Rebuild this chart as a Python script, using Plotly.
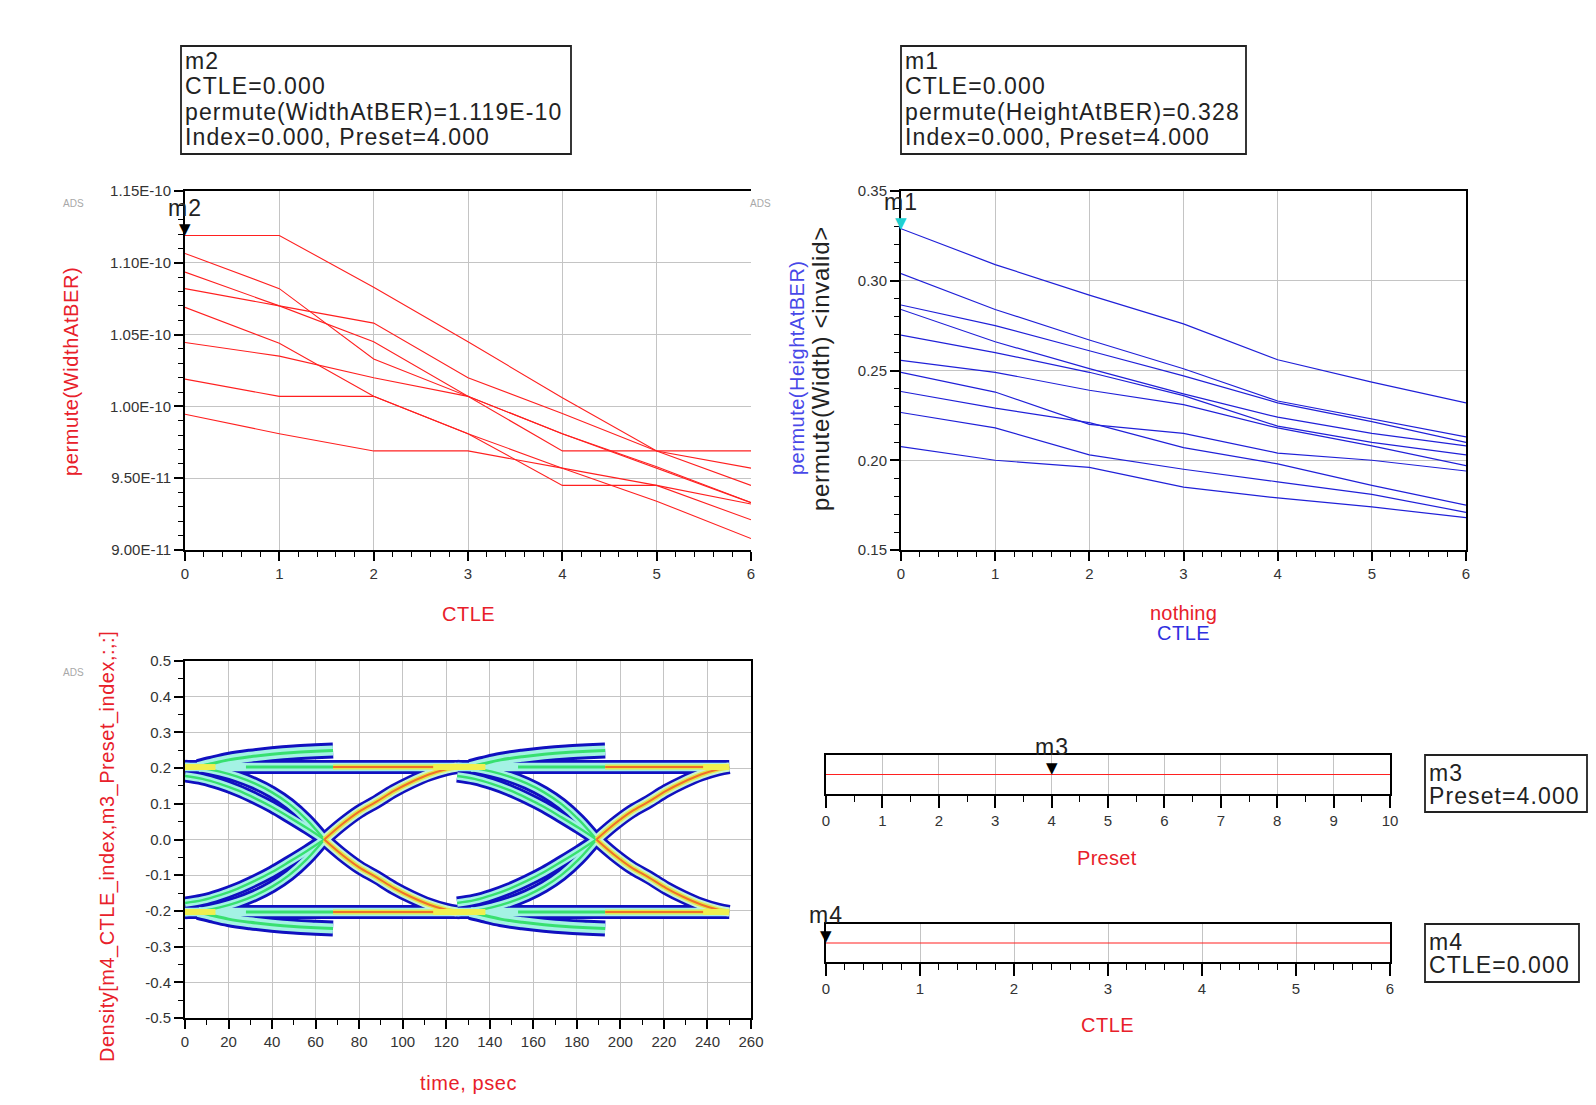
import plotly.graph_objects as go

# ---------------- data ----------------
ctle = [0, 1, 2, 3, 4, 5, 6]

# permute(WidthAtBER) in ps, one list per Index
width_at_ber_ps = [
    [111.9, 111.9, 108.3, 104.5, 100.6, 96.9, 95.7],
    [110.65, 108.2, 103.3, 100.7, 98.1, 95.8, 93.3],
    [109.35, 107.0, 105.8, 102.0, 99.5, 96.9, 94.5],
    [108.2, 107.0, 104.5, 100.7, 96.9, 96.9, 96.9],
    [106.9, 104.4, 100.7, 98.1, 95.7, 93.4, 90.8],
    [104.45, 103.5, 102.0, 100.7, 98.1, 95.7, 93.3],
    [101.9, 100.7, 100.7, 98.1, 94.5, 94.5, 92.1],
    [99.45, 98.1, 96.9, 96.9, 95.7, 94.5, 93.2],
]

# permute(HeightAtBER), one list per Index
height_at_ber = [
    [0.329, 0.309, 0.292, 0.276, 0.256, 0.2435, 0.232],
    [0.304, 0.284, 0.267, 0.251, 0.233, 0.223, 0.213],
    [0.2865, 0.275, 0.261, 0.247, 0.232, 0.2215, 0.210],
    [0.284, 0.266, 0.251, 0.237, 0.224, 0.215, 0.208],
    [0.2697, 0.260, 0.249, 0.236, 0.219, 0.210, 0.203],
    [0.2556, 0.249, 0.239, 0.231, 0.218, 0.208, 0.197],
    [0.249, 0.238, 0.220, 0.215, 0.204, 0.200, 0.194],
    [0.2383, 0.229, 0.221, 0.207, 0.198, 0.186, 0.175],
    [0.2266, 0.218, 0.203, 0.195, 0.188, 0.181, 0.171],
    [0.2076, 0.200, 0.196, 0.185, 0.179, 0.174, 0.168],
]

# markers
m2_ctle, m2_width = 0.0, 1.119e-10
m1_ctle, m1_height = 0.0, 0.328
m3_preset = 4.0
m4_ctle = 0.0

# eye diagram trajectories (time in psec, volts); repeated for each UI
eye_ui_start = [0, 125]
eye_pre_t = [0, 8, 16, 24, 32, 40, 48, 56, 64]
eye_fall_pre_a = [0.205, 0.200, 0.190, 0.176, 0.157, 0.132, 0.099, 0.055, 0.0]
eye_fall_pre_b = [0.178, 0.170, 0.156, 0.138, 0.116, 0.091, 0.062, 0.032, 0.0]
eye_post_t = [64, 72, 80, 88, 96, 104, 112, 120, 125]
eye_fall_post = [0.0, -0.042, -0.078, -0.106, -0.136, -0.161, -0.182, -0.197, -0.203]
eye_branch_t = [6, 12, 20, 30, 40, 50, 60, 68]
eye_branch_v = [0.203, 0.212, 0.223, 0.232, 0.239, 0.244, 0.247, 0.249]
eye_level = 0.203
eye_level_t = [0, 250]
eye_green_t = [[28, 68], [153, 193]]
eye_orange_t = [[68, 116], [193, 241]]
eye_yellow_t = [[0, 14], [114, 138], [238, 250]]

# tick labels
w_tickvals = [9.0e-11, 9.5e-11, 1.0e-10, 1.05e-10, 1.10e-10, 1.15e-10]
w_ticktext = ["9.00E-11", "9.50E-11", "1.00E-10", "1.05E-10", "1.10E-10", "1.15E-10"]
h_tickvals = [0.15, 0.20, 0.25, 0.30, 0.35]
h_ticktext = ["0.15", "0.20", "0.25", "0.30", "0.35"]
eye_y_tickvals = [-0.5, -0.4, -0.3, -0.2, -0.1, 0.0, 0.1, 0.2, 0.3, 0.4, 0.5]
eye_y_ticktext = ["-0.5", "-0.4", "-0.3", "-0.2", "-0.1", "0.0", "0.1", "0.2", "0.3", "0.4", "0.5"]
eye_x_tickvals = list(range(0, 261, 20))
eye_x_ticktext = [str(v) for v in eye_x_tickvals]
preset_range = [0, 10]
ctle_range = [0, 6]

# ---------------- layout helpers ----------------
W, H = 1596, 1105
def fx(x): return x / W
def fy(y): return 1 - y / H

RED = "#e8202a"
FONT = "Liberation Sans, Arial"
TICKFONT = dict(family=FONT, size=15, color="#333")

def sp(text, ls):
    return '<span style="letter-spacing:%spx">%s</span>' % (ls, text)

def axis(domain, rng, dtick, minor_dtick, anchor, **kw):
    d = dict(domain=domain, range=rng, anchor=anchor, dtick=dtick, automargin=False,
             showgrid=True, gridcolor="#c4c4c4", gridwidth=1,
             showline=True, linecolor="black", linewidth=2, mirror=True,
             zeroline=False, ticks="outside", ticklen=9, tickwidth=1.5,
             tickcolor="black", tickfont=TICKFONT,
             minor=dict(ticks="outside", ticklen=5, tickwidth=1.2,
                        tickcolor="black", dtick=minor_dtick, showgrid=False))
    d.update(kw)
    return d

fig = go.Figure()

# --- top-left: WidthAtBER ---
for row in width_at_ber_ps:
    fig.add_trace(go.Scatter(x=ctle, y=[v * 1e-12 for v in row], mode="lines",
                             line=dict(color="#ff2020", width=1.1),
                             xaxis="x", yaxis="y", showlegend=False))

# --- top-right: HeightAtBER ---
for row in height_at_ber:
    fig.add_trace(go.Scatter(x=ctle, y=row, mode="lines",
                             line=dict(color="#2020d8", width=1.2),
                             xaxis="x2", yaxis="y2", showlegend=False))

# --- eye diagram (density rendering via layered bands) ---
pre_a, pre_b, post, branches, levels, greens, oranges, yellows = [], [], [], [], [], [], [], []
for u in eye_ui_start:
    tp = [u + x for x in eye_pre_t]
    tq = [u + x for x in eye_post_t]
    tb = [u + x for x in eye_branch_t]
    for s in (1, -1):
        pre_a.append((tp, [s * v for v in eye_fall_pre_a]))
        pre_b.append((tp, [s * v for v in eye_fall_pre_b]))
        post.append((tq, [s * v for v in eye_fall_post]))
        branches.append((tb, [s * v for v in eye_branch_v]))
for s in (1, -1):
    levels.append((eye_level_t, [s * eye_level] * 2))
    for seg in eye_green_t:
        greens.append((seg, [s * eye_level] * 2))
    for seg in eye_orange_t:
        oranges.append((seg, [s * eye_level] * 2))
    for seg in eye_yellow_t:
        yellows.append((seg, [s * eye_level] * 2))

def add_eye(paths, color, width):
    for t, v in paths:
        fig.add_trace(go.Scatter(x=t, y=v, mode="lines",
                                 line=dict(color=color, width=width, shape="spline"),
                                 xaxis="x3", yaxis="y3", showlegend=False, hoverinfo="skip"))

BLUE_E, FILL = "#1010c0", "#a4f2e4"
add_eye(branches, BLUE_E, 16)
add_eye(levels, BLUE_E, 14)
add_eye(pre_a + pre_b, BLUE_E, 13)
add_eye(post, BLUE_E, 14)
add_eye(branches, FILL, 10)
add_eye(levels, FILL, 8.5)
add_eye(pre_a + pre_b, FILL, 7.5)
add_eye(post, "#c8f4d0", 9)
add_eye(branches, "#38e070", 3)
add_eye(greens, "#38e070", 3)
add_eye(pre_a + pre_b, "#38e070", 2.4)
add_eye(post + oranges, "#e4e848", 5)
add_eye(post + oranges, "#f07028", 2)
add_eye(yellows, "#f0f050", 6)

# --- sliders ---
fig.add_trace(go.Scatter(x=preset_range, y=[0, 0], mode="lines",
                         line=dict(color="#ff2020", width=1.2),
                         xaxis="x4", yaxis="y4", showlegend=False))
fig.add_trace(go.Scatter(x=ctle_range, y=[0, 0], mode="lines",
                         line=dict(color="#ff2020", width=1.2),
                         xaxis="x5", yaxis="y5", showlegend=False))

# domains
tl_x = [fx(185), fx(751)]
tr_x = [fx(901), fx(1466)]
top_y = [fy(550), fy(191)]
eye_y = [fy(1018), fy(661)]
sl_x = [fx(826), fx(1390)]
s1_y = [fy(794), fy(755)]
s2_y = [fy(962), fy(924)]

hidden_y = dict(showgrid=False, showticklabels=False, ticks="", zeroline=False, automargin=False,
                showline=True, linecolor="black", linewidth=1.5, mirror=True, range=[-1, 1])

fig.update_layout(
    width=W, height=H, autosize=False,
    margin=dict(l=0, r=0, t=0, b=0, pad=0, autoexpand=False),
    paper_bgcolor="white", plot_bgcolor="white",
    showlegend=False,
    xaxis=axis(tl_x, [0, 6], 1, 0.2, "y"),
    yaxis=axis(top_y, [9.0e-11, 1.15e-10], None, 1e-12, "x", mirror=False,
               tickmode="array", tickvals=w_tickvals, ticktext=w_ticktext),
    xaxis2=axis(tr_x, [0, 6], 1, 0.2, "y2"),
    yaxis2=axis(top_y, [0.15, 0.35], None, 0.01, "x2",
                tickmode="array", tickvals=h_tickvals, ticktext=h_ticktext),
    xaxis3=axis(tl_x, [0, 260], None, 10, "y3",
                tickmode="array", tickvals=eye_x_tickvals, ticktext=eye_x_ticktext),
    yaxis3=axis(eye_y, [-0.5, 0.5], None, 0.05, "x3",
                tickmode="array", tickvals=eye_y_tickvals, ticktext=eye_y_ticktext),
    xaxis4=axis(sl_x, preset_range, 1, 0.5, "y4", ticklen=12, minor=dict(
        ticks="outside", ticklen=6, tickwidth=1.2, tickcolor="black", dtick=0.5, showgrid=False)),
    yaxis4=dict(domain=s1_y, anchor="x4", **hidden_y),
    xaxis5=axis(sl_x, ctle_range, 1, 0.2, "y5", ticklen=12, minor=dict(
        ticks="outside", ticklen=6, tickwidth=1.2, tickcolor="black", dtick=0.2, showgrid=False)),
    yaxis5=dict(domain=s2_y, anchor="x5", **hidden_y),
)

# --- marker readout boxes ---
boxes = [
    ((181, 46, 571, 154), ["m2", "CTLE=0.000", "permute(WidthAtBER)=1.119E-10",
                           "Index=0.000, Preset=4.000"], 25.3, 15),
    ((901, 46, 1246, 154), ["m1", "CTLE=0.000", "permute(HeightAtBER)=0.328",
                            "Index=0.000, Preset=4.000"], 25.3, 15),
    ((1425, 755, 1587, 812), ["m3", "Preset=4.000"], 23.4, 17.5),
    ((1425, 924, 1579, 982), ["m4", "CTLE=0.000"], 23.4, 17.5),
]
for (x0, y0, x1, y1), lines, pitch, first in boxes:
    fig.add_shape(type="rect", xref="paper", yref="paper",
                  x0=fx(x0), x1=fx(x1), y0=fy(y1), y1=fy(y0),
                  line=dict(color="#222", width=1.8), fillcolor="white")
    for i, txt in enumerate(lines):
        fig.add_annotation(xref="paper", yref="paper", x=fx(x0 + 2), y=fy(y0 + first + i * pitch),
                           xanchor="left", yanchor="middle", align="left", showarrow=False,
                           text=sp(txt, 1.1), font=dict(family=FONT, size=23, color="#222"))

def label(x, y, text, color, size, angle=0, ls=0.5):
    fig.add_annotation(xref="paper", yref="paper", x=fx(x), y=fy(y), text=sp(text, ls),
                       showarrow=False, textangle=angle, xanchor="center", yanchor="middle",
                       font=dict(family=FONT, size=size, color=color))

label(71, 372, "permute(WidthAtBER)", RED, 20, -90, 0.6)
label(468, 614, "CTLE", RED, 20)
label(797, 368, "permute(HeightAtBER)", "#4848e8", 20, -90, 0.5)
label(821, 369, "permute(Width) &lt;invalid&gt;", "#222", 24, -90, 0.7)
label(1183, 613, "nothing", RED, 20, 0, 0.2)
label(1183, 633, "CTLE", "#3030e0", 20)
label(107, 847, "Density[m4_CTLE_index,m3_Preset_index,:,:]", RED, 20, -90, 0.5)
label(468, 1083, "time, psec", RED, 20, 0, 0.6)
label(1107, 858, "Preset", RED, 20, 0, 0.3)
label(1107, 1025, "CTLE", RED, 20)

for x, y in [(73, 203), (760, 203), (73, 673)]:
    label(x, y, "ADS", "#a8a8a8", 10, 0, 0)

def marker(xaxis, yaxis, x, y, name, color):
    fig.add_annotation(xref=xaxis, yref=yaxis, x=x, y=y, text="▼", showarrow=False,
                       xanchor="center", yanchor="bottom", yshift=-4,
                       font=dict(family="DejaVu Sans", size=15, color=color))
    fig.add_annotation(xref=xaxis, yref=yaxis, x=x, y=y, text=sp(name, 1.1), showarrow=False,
                       xanchor="center", yanchor="middle", yshift=28,
                       font=dict(family=FONT, size=23, color="#222"))

marker("x", "y", m2_ctle, m2_width, "m2", "black")
marker("x2", "y2", m1_ctle, m1_height, "m1", "#20d0d0")
marker("x4", "y4", m3_preset, 0, "m3", "black")
marker("x5", "y5", m4_ctle, 0, "m4", "black")

fig.write_html("out.html", config={"displayModeBar": False},
               post_script="document.body.style.margin='0px';"
                           "document.body.style.padding='0px';"
                           "document.documentElement.style.overflow='hidden';")
